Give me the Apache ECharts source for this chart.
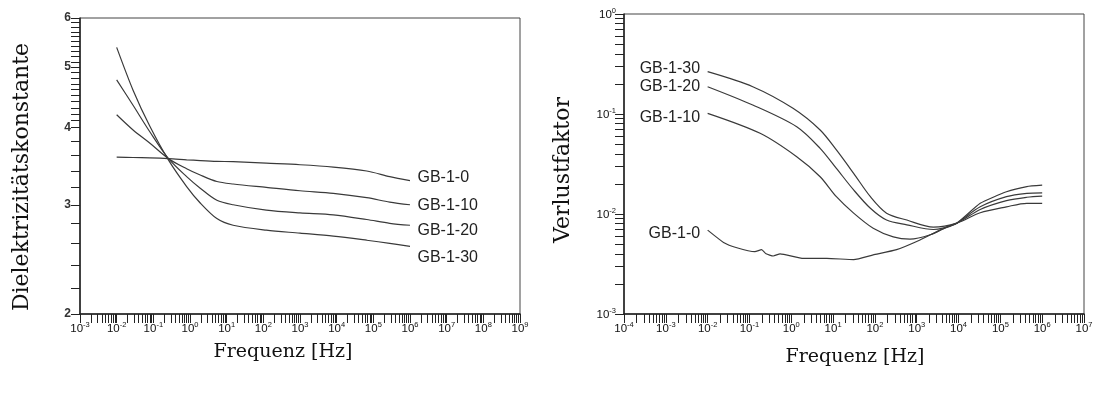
<!DOCTYPE html>
<html><head><meta charset="utf-8">
<script src="https://cdn.jsdelivr.net/npm/echarts@6/dist/echarts.min.js"></script>
<style>html,body{margin:0;padding:0;background:#fff}#c{width:1099px;height:394px}</style>
</head><body><div id="c"></div>
<script>
// ---------- DATA ----------
const seriesNames = ['GB-1-0', 'GB-1-10', 'GB-1-20', 'GB-1-30'];

// Left chart: dielectric constant vs frequency [Hz]
const leftFreq = [0.01, 0.028, 0.081, 0.26, 0.81, 1.9, 5.4, 15, 120, 1000, 8100, 66000, 280000, 1000000];
const leftGB0  = [3.58, 3.575, 3.57, 3.56, 3.545, 3.535, 3.525, 3.52, 3.50, 3.48, 3.45, 3.40, 3.33, 3.28];
const leftGB10 = [4.19, 3.96, 3.77, 3.56, 3.43, 3.35, 3.27, 3.24, 3.20, 3.16, 3.13, 3.08, 3.03, 3.00];
const leftGB20 = [4.77, 4.34, 3.93, 3.56, 3.33, 3.19, 3.05, 3.00, 2.94, 2.91, 2.89, 2.84, 2.80, 2.78];
const leftGB30 = [5.38, 4.59, 4.01, 3.54, 3.21, 3.02, 2.85, 2.78, 2.73, 2.70, 2.67, 2.63, 2.60, 2.57];
const leftYTickLabels = [2, 3, 4, 5, 6];
const leftYMinorTicks = [2.2, 2.4, 2.6, 2.8, 3.2, 3.4, 3.6, 3.8, 4.1, 4.2, 4.3, 4.4, 4.5, 4.6, 4.7, 4.8, 4.9, 5.1, 5.2, 5.3, 5.4, 5.5, 5.6, 5.7, 5.8, 5.9];
const leftXExponents = [-3, -2, -1, 0, 1, 2, 3, 4, 5, 6, 7, 8, 9];

// Right chart: loss factor vs frequency [Hz]
const rightFreqGB0  = [0.01, 0.024, 0.05, 0.135, 0.195, 0.25, 0.37, 0.54, 1.95, 7.1, 31, 91, 330, 1200, 3600, 9100, 33000, 140000, 430000, 1000000];
const rightGB0      = [0.0069, 0.0052, 0.0046, 0.0042, 0.0044, 0.0040, 0.0038, 0.0040, 0.0036, 0.0036, 0.0035, 0.0039, 0.0044, 0.0055, 0.0069, 0.0081, 0.0128, 0.0167, 0.0188, 0.0194];
const rightFreqGB10 = [0.01, 0.18, 1.35, 4.9, 12, 31, 91, 275, 690, 2100, 5200, 9100, 33000, 140000, 430000, 1000000];
const rightGB10     = [0.1016, 0.0641, 0.0374, 0.0236, 0.0149, 0.0102, 0.0072, 0.0059, 0.0056, 0.0062, 0.0074, 0.0081, 0.0118, 0.0149, 0.0161, 0.0163];
const rightFreqGB20 = [0.01, 0.12, 1.35, 4.9, 12, 31, 78, 190, 580, 2500, 9100, 33000, 140000, 430000, 1000000];
const rightGB20     = [0.1875, 0.123, 0.0746, 0.0454, 0.0286, 0.0174, 0.0114, 0.0087, 0.0078, 0.0070, 0.0081, 0.0111, 0.0136, 0.0147, 0.0151];
const rightFreqGB30 = [0.01, 0.12, 1.1, 4.9, 12, 31, 78, 190, 580, 2500, 9100, 33000, 140000, 430000, 1000000];
const rightGB30     = [0.265, 0.1875, 0.114, 0.0692, 0.0437, 0.0255, 0.0149, 0.0102, 0.0087, 0.0074, 0.0081, 0.0103, 0.0118, 0.0128, 0.0128];
const rightXExponents = [-4, -3, -2, -1, 0, 1, 2, 3, 4, 5, 6, 7];
const rightYExponents = [-3, -2, -1, 0];

const leftTitle = 'Dielektrizitätskonstante';
const rightTitle = 'Verlustfaktor';
const xTitle = 'Frequenz [Hz]';

// ---------- BUILD ----------
const pow10 = n => Number('1e' + n);
const decadeVals = exps => exps.map(pow10);
function minorVals(exps) { const r = []; for (let i = 0; i < exps.length - 1; i++) for (let k = 2; k <= 9; k++) r.push(k * pow10(exps[i])); return r; }
function zip(xs, ys) { return xs.map((x, i) => [x, ys[i]]); }

const INK = '#222';
const LINE = '#3a3a3a';
const tickFont = 'Liberation Sans';
const supRich = {
  b: { fontSize: 11.5, fontFamily: tickFont, color: '#111', lineHeight: 14, verticalAlign: 'bottom' },
  s: { fontSize: 7.5, fontFamily: tickFont, color: '#111', lineHeight: 14, verticalAlign: 'top' }
};
const supFmt = v => '{b|10}{s|' + Math.round(Math.log10(v)) + '}';

function mainAxis(grid, pos, min, max, labelVals, minorTickVals, labelOpt) {
  return {
    type: 'log', logBase: 10, gridIndex: grid, position: pos, min: min, max: max,
    axisLine: { show: true, onZero: false, lineStyle: { color: INK, width: 1.5 } },
    axisTick: { show: true, length: 9, customValues: labelVals.concat(minorTickVals).sort((a, b) => a - b), lineStyle: { color: INK, width: 1 } },
    axisLabel: Object.assign({ show: true, customValues: labelVals }, labelOpt),
    splitLine: { show: true, lineStyle: { color: 'rgba(0,0,0,0)' } }
  };
}

const lxMin = pow10(leftXExponents[0]), lxMax = pow10(leftXExponents[leftXExponents.length - 1]);
const rxMin = pow10(rightXExponents[0]), rxMax = pow10(rightXExponents[rightXExponents.length - 1]);
const lyMin = leftYTickLabels[0], lyMax = leftYTickLabels[leftYTickLabels.length - 1];
const ryMin = pow10(rightYExponents[0]), ryMax = pow10(rightYExponents[rightYExponents.length - 1]);

const xAxis = [
  mainAxis(0, 'bottom', lxMin, lxMax, decadeVals(leftXExponents), minorVals(leftXExponents), { formatter: supFmt, rich: supRich, margin: 7 }),
  mainAxis(1, 'bottom', rxMin, rxMax, decadeVals(rightXExponents), minorVals(rightXExponents), { formatter: supFmt, rich: supRich, margin: 7 })
];
const yAxis = [
  mainAxis(0, 'left', lyMin, lyMax, leftYTickLabels, leftYMinorTicks, { formatter: v => String(Math.round(v)), fontSize: 12, fontWeight: 'bold', fontFamily: tickFont, color: '#333', margin: 9 }),
  mainAxis(1, 'left', ryMin, ryMax, decadeVals(rightYExponents), minorVals(rightYExponents), { formatter: supFmt, rich: supRich, margin: 8 })
];

const leftVals = [leftGB0, leftGB10, leftGB20, leftGB30];
const rightFreqs = [rightFreqGB0, rightFreqGB10, rightFreqGB20, rightFreqGB30];
const rightVals = [rightGB0, rightGB10, rightGB20, rightGB30];
const leftLabelShift = [-3, 1, 5, 11];
const rightLabelShift = [3, 4, 0, -3];
const labelStyle = { fontSize: 16, fontFamily: tickFont, color: INK };

function makeSeries(name, pts, xi, yi, labelIdx, pos, dy, smooth) {
  const data = pts.map((p, i) => i === labelIdx
    ? { value: p, label: Object.assign({ show: true, position: pos, distance: 7, offset: [0, dy], formatter: name }, labelStyle) }
    : { value: p });
  return {
    type: 'line', name: name, xAxisIndex: xi, yAxisIndex: yi, data: data,
    symbol: 'circle', symbolSize: 1, showSymbol: true, itemStyle: { color: 'rgba(0,0,0,0)' },
    lineStyle: { color: LINE, width: 1.2 }, smooth: smooth, silent: true, animation: false,
    emphasis: { disabled: true }
  };
}

const series = [];
seriesNames.forEach((n, i) => {
  const pts = zip(leftFreq, leftVals[i]);
  series.push(makeSeries(n, pts, 0, 0, pts.length - 1, 'right', leftLabelShift[i], 0.3));
});
seriesNames.forEach((n, i) => {
  const pts = zip(rightFreqs[i], rightVals[i]);
  series.push(makeSeries(n, pts, 1, 1, 0, 'left', rightLabelShift[i], i === 0 ? 0.15 : 0.3));
});

const titleFont = '22px "DejaVu Serif"';
const xTitleFont = '19px "DejaVu Serif"';
const option = {
  animation: false,
  grid: [
    { left: 80, top: 18, width: 440, height: 296, show: true, borderColor: '#444', borderWidth: 1 },
    { left: 624, top: 14, width: 460, height: 300, show: true, borderColor: '#444', borderWidth: 1 }
  ],
  xAxis: xAxis,
  yAxis: yAxis,
  series: series,
  graphic: [
    { type: 'text', x: 22, y: 177, rotation: Math.PI / 2, style: { text: leftTitle, font: titleFont, fill: '#111', align: 'center', verticalAlign: 'middle' } },
    { type: 'text', x: 563, y: 170, rotation: Math.PI / 2, style: { text: rightTitle, font: titleFont, fill: '#111', align: 'center', verticalAlign: 'middle' } },
    { type: 'text', x: 283, y: 352, style: { text: xTitle, font: xTitleFont, fill: '#111', align: 'center', verticalAlign: 'middle' } },
    { type: 'text', x: 855, y: 357, style: { text: xTitle, font: xTitleFont, fill: '#111', align: 'center', verticalAlign: 'middle' } }
  ]
};
const chart = echarts.init(document.getElementById('c'), null, { renderer: 'canvas' });
chart.setOption(option);
</script></body></html>
